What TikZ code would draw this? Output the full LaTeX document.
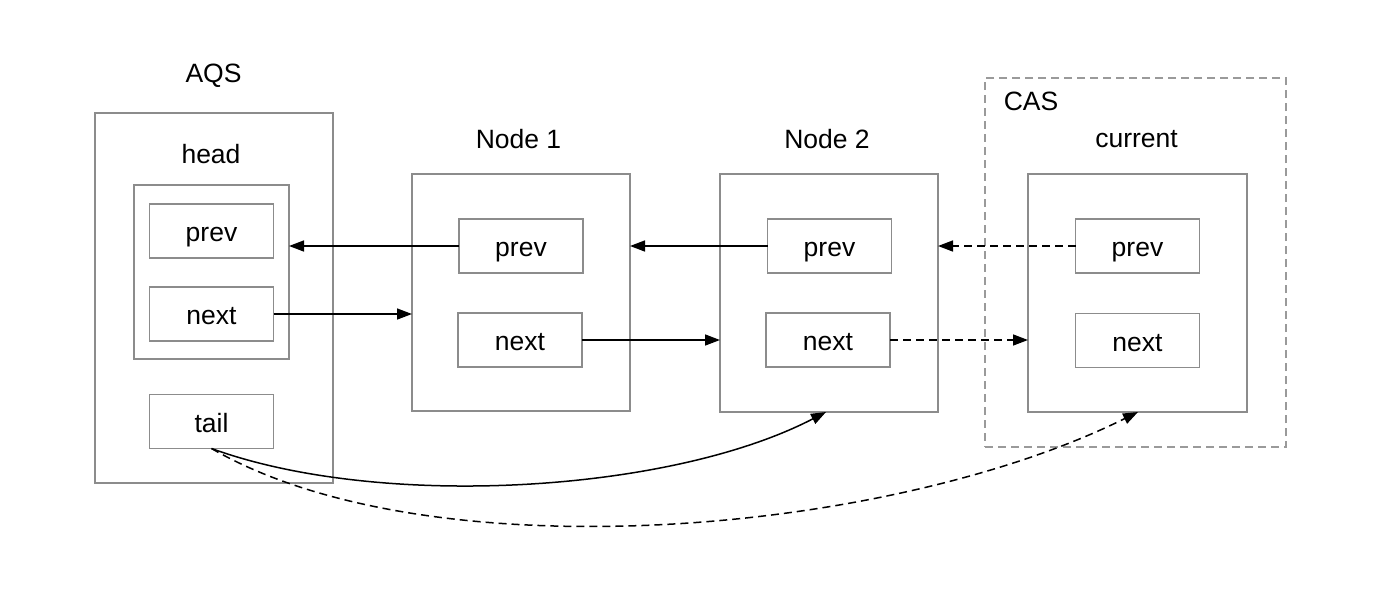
\documentclass[tikz,border=0pt]{standalone}
\usepackage{fontspec}
\setmainfont{Liberation Sans}
\usetikzlibrary{arrows.meta}
\definecolor{boxgray}{HTML}{8C8C8C}
\definecolor{dashgray}{HTML}{9A9A9A}
\begin{document}
\begin{tikzpicture}[x=1pt,y=-1pt,
  box/.style={draw=boxgray,line width=1.5pt,inner sep=0pt,outer sep=0pt},
  field/.style={box,minimum width=124pt,minimum height=54pt,font=\fontsize{26.5}{30}\selectfont,text height=21pt,text depth=0pt},
  lbl/.style={font=\fontsize{26.5}{30}\selectfont,inner sep=0pt,text height=19pt,text depth=0pt},
  arr/.style={line width=1.5pt,-{Triangle[length=15pt,width=11pt]}},
  darr/.style={arr,dash pattern=on 8pt off 5pt}]
\useasboundingbox (0,0) rectangle (1382,600);
\fill[white] (0,0) rectangle (1382,600);
% AQS
\node[lbl] (aqsl) at (213.5,73.2) {AQS};
\node[box,minimum width=238pt,minimum height=370pt] (aqs) at (214,298) {};
\node[lbl] (headl) at (211,153.8) {head};
\node[box,minimum width=155pt,minimum height=174pt] (head) at (211.5,272) {};
\node[field] (hprev) at (211.5,231) {prev};
\node[field] (hnext) at (211.5,314) {next};
\node[field] (tail) at (211.5,421.5) {tail};
% Node 1
\node[lbl] (n1l) at (518.5,138.5) {Node 1};
\node[box,minimum width=218pt,minimum height=237pt] (n1) at (521,292.5) {};
\node[field] (n1prev) at (521,246) {prev};
\node[field] (n1next) at (520,340) {next};
% Node 2
\node[lbl] (n2l) at (827,138.5) {Node 2};
\node[box,minimum width=218pt,minimum height=238pt] (n2) at (829,293) {};
\node[field] (n2prev) at (829.5,246) {prev};
\node[field] (n2next) at (828,340) {next};
% CAS
\node[box,draw=dashgray,dash pattern=on 8pt off 5pt,minimum width=301pt,minimum height=369pt] (cas) at (1135.5,262.5) {};
\node[lbl] (casl) at (1031,101.2) {CAS};
\node[lbl] (curl) at (1136.5,137.8) {current};
\node[box,minimum width=219pt,minimum height=238pt] (cur) at (1137.5,293) {};
\node[field] (cprev) at (1137.5,246) {prev};
\node[field] (cnext) at (1137.5,340.5) {next};
% arrows
\draw[arr] (n1prev.west) -- (head.east |- n1prev.west);
\draw[arr] (hnext.east) -- (n1.west |- hnext.east);
\draw[arr] (n2prev.west) -- (n1.east |- n2prev.west);
\draw[arr] (n1next.east) -- (n2.west |- n1next.east);
\draw[darr] (cprev.west) -- (n2.east |- cprev.west);
\draw[darr] (n2next.east) -- (cur.west |- n2next.east);
\coordinate (n2b) at (826,412);
\coordinate (curb) at (1138,412);
\draw[arr] (tail.south) .. controls (380,510) and (670,493) .. (n2b);
\draw[darr] (tail.south) .. controls (430,575) and (890,535) .. (curb);
\end{tikzpicture}
\end{document}
